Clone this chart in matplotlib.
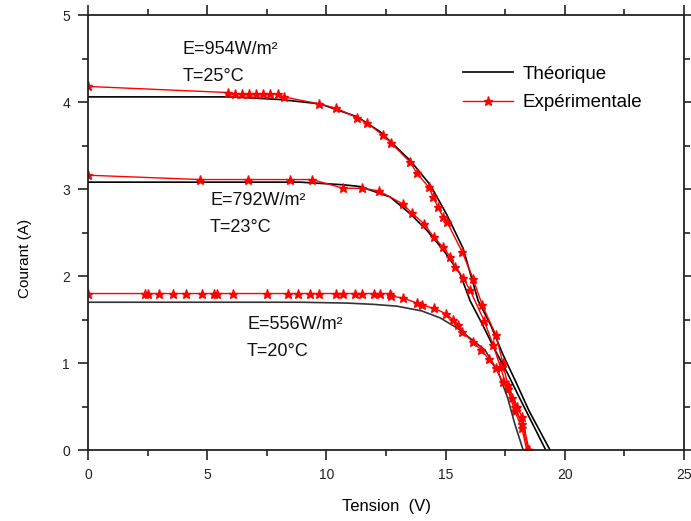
import matplotlib
matplotlib.use("Agg")
import matplotlib.pyplot as plt
from matplotlib.ticker import MultipleLocator

plt.rcParams["font.family"] = ["Liberation Sans", "DejaVu Sans"]

# Theoretical curves
v_th_954 = [0, 2, 4, 6, 8.05, 9.73, 11.3, 12.25, 13.51, 14.35, 15.06, 15.73, 16.36, 16.9, 17.4, 17.95, 18.5, 18.95, 19.38]
i_th_954 = [4.06, 4.06, 4.06, 4.06, 4.03, 3.98, 3.83, 3.66, 3.33, 3.05, 2.70, 2.32, 1.72, 1.43, 1.1, 0.78, 0.45, 0.22, 0.0]

v_th_792 = [0, 3, 6, 8.9, 10.7, 11.4, 12.67, 13.5, 14.2, 14.9, 15.6, 16.02, 16.55, 17.07, 17.6, 18.1, 18.65, 19.2]
i_th_792 = [3.08, 3.08, 3.08, 3.08, 3.05, 3.03, 2.91, 2.72, 2.53, 2.30, 2.03, 1.72, 1.44, 1.15, 0.88, 0.6, 0.3, 0.0]

v_th_556 = [0, 4, 8.9, 10.9, 12.0, 12.95, 14.0, 14.77, 15.5, 16.15, 16.65, 17.2, 17.6, 17.9, 18.1, 18.25]
i_th_556 = [1.70, 1.70, 1.70, 1.69, 1.675, 1.655, 1.60, 1.52, 1.40, 1.26, 1.15, 0.9, 0.6, 0.3, 0.13, 0.0]

# Experimental curves
v_ex_954 = [0, 5.87, 6.15, 6.45, 6.75, 7.05, 7.35, 7.65, 7.95, 8.2, 9.7, 10.4, 11.3, 11.7, 12.37, 12.71,
            13.51, 13.80, 14.30, 14.47, 14.68, 14.89, 15.06, 15.69, 16.15, 16.53, 17.11, 17.4, 17.6, 17.9,
            18.2, 18.46]
i_ex_954 = [4.18, 4.11, 4.09, 4.09, 4.09, 4.09, 4.09, 4.09, 4.09, 4.06, 3.98, 3.93, 3.82, 3.76, 3.62, 3.53,
            3.31, 3.18, 3.02, 2.91, 2.79, 2.68, 2.62, 2.28, 1.97, 1.67, 1.32, 1.0, 0.75, 0.5,
            0.3, 0.0]

v_ex_792 = [0, 4.7, 6.7, 8.47, 9.4, 10.7, 11.5, 12.2, 13.2, 13.6, 14.1, 14.5, 14.9, 15.2, 15.4, 15.73,
            16.02, 16.61, 16.99, 17.3, 17.6, 17.9, 18.2, 18.4]
i_ex_792 = [3.16, 3.11, 3.11, 3.11, 3.11, 3.01, 3.01, 2.98, 2.83, 2.72, 2.60, 2.45, 2.33, 2.22, 2.10, 1.98,
            1.84, 1.49, 1.21, 0.95, 0.7, 0.45, 0.25, 0.0]

v_ex_556 = [0, 2.4, 2.5, 2.98, 3.57, 4.1, 4.8, 5.3, 5.4, 6.1, 7.5, 8.4, 8.8, 9.3, 9.7, 10.4, 10.7, 11.2,
            11.5, 12.0, 12.25, 12.67, 12.7, 13.2, 13.8, 14.0, 14.5, 15.0, 15.3, 15.5, 15.7, 16.15, 16.5,
            16.8, 17.1, 17.4, 17.8, 18.0, 18.2, 18.5]
i_ex_556 = [1.80, 1.80, 1.80, 1.80, 1.80, 1.80, 1.80, 1.80, 1.80, 1.80, 1.80, 1.80, 1.80, 1.80, 1.80, 1.80,
            1.80, 1.80, 1.80, 1.80, 1.80, 1.80, 1.77, 1.75, 1.69, 1.67, 1.63, 1.57, 1.50, 1.44, 1.36, 1.24,
            1.15, 1.05, 0.94, 0.78, 0.6, 0.5, 0.38, 0.0]

labels = [("E=954W/m²", "T=25°C", 3.98, 4.61, 4.30),
          ("E=792W/m²", "T=23°C", 5.12, 2.87, 2.56),
          ("E=556W/m²", "T=20°C", 6.67, 1.44, 1.13)]

fig = plt.figure(figsize=(6.91, 5.21), dpi=100)
ax = fig.add_axes([0.1274, 0.136, 0.8626, 0.835])

red = "#ff0000"
star = dict(color=red, lw=1.0, marker="*", ms=6.5, mec=red, mfc=red)
ax.plot(v_th_954, i_th_954, color="black", lw=1.2, label="Théorique")
ax.plot(v_ex_954, i_ex_954, label="Expérimentale", **star)
ax.plot(v_th_792, i_th_792, color="black", lw=1.2)
ax.plot(v_ex_792, i_ex_792, **star)
ax.plot(v_th_556, i_th_556, color="#333333", lw=1.2)
ax.plot(v_ex_556, i_ex_556, **star)

for e, t, x, ye, yt in labels:
    ax.text(x, ye, e, fontsize=13, va="center", ha="left", color="#111111")
    ax.text(x, yt, t, fontsize=13, va="center", ha="left", color="#111111")

ax.set_xlim(0, 25)
ax.set_ylim(0, 5)
ax.xaxis.set_major_locator(MultipleLocator(5))
ax.xaxis.set_minor_locator(MultipleLocator(2.5))
ax.yaxis.set_major_locator(MultipleLocator(1))
ax.yaxis.set_minor_locator(MultipleLocator(0.5))
ax.tick_params(which="both", direction="out", top=True, right=True, width=1.2, labelsize=10, colors="#222222")
ax.tick_params(which="major", length=7, pad=6)
ax.tick_params(which="minor", length=4)
for s in ax.spines.values():
    s.set_linewidth(1.3)
    s.set_color("#222222")

ax.set_xlabel("Tension  (V)", fontsize=12, labelpad=12)
ax.set_ylabel("Courant (A)", fontsize=11)
ax.yaxis.set_label_coords(-0.094, 0.441)

ax.legend(loc="upper left", bbox_to_anchor=(0.629, 0.884), frameon=False, fontsize=13.5,
          handlelength=2.67, handletextpad=0.5, numpoints=1, labelspacing=0.6,
          borderaxespad=0, borderpad=0)

fig.savefig("out.png", dpi=100)
